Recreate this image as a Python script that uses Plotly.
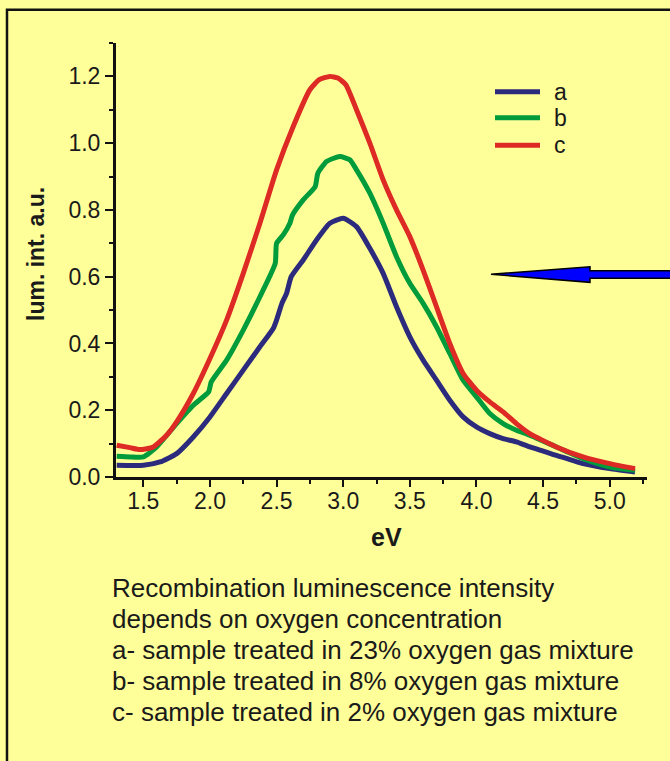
import plotly.graph_objects as go

# ---------------- data ----------------
series_names = ["a", "b", "c"]
series_colors = ["#2B2A7C", "#009B3A", "#DD2A25"]

x_a = [1.30, 1.5, 1.625, 1.75, 1.875, 2.0, 2.125, 2.25, 2.375, 2.475, 2.5, 2.54, 2.575, 2.61,
       2.7, 2.8, 2.9, 3.0, 3.1, 3.2, 3.3, 3.4, 3.5, 3.6, 3.7, 3.8, 3.9, 4.0, 4.1, 4.2, 4.3,
       4.4, 4.6, 4.8, 5.0, 5.19]
y_a = [0.035, 0.035, 0.045, 0.07, 0.12, 0.18, 0.25, 0.32, 0.39, 0.445, 0.47, 0.52, 0.55, 0.60,
       0.65, 0.71, 0.76, 0.775, 0.75, 0.685, 0.61, 0.51, 0.42, 0.35, 0.29, 0.23, 0.18, 0.15,
       0.13, 0.115, 0.105, 0.09, 0.065, 0.04, 0.025, 0.015]

x_b = [1.30, 1.40, 1.5, 1.6, 1.75, 1.875, 1.99, 2.01, 2.125, 2.25, 2.375, 2.49, 2.50, 2.55,
       2.60, 2.62, 2.70, 2.79, 2.81, 2.875, 2.975, 3.05, 3.1, 3.2, 3.3, 3.4, 3.5, 3.6, 3.7,
       3.8, 3.9, 4.0, 4.1, 4.2, 4.3, 4.4, 4.6, 4.8, 5.0, 5.19]
y_b = [0.062, 0.06, 0.06, 0.09, 0.16, 0.215, 0.255, 0.285, 0.35, 0.44, 0.54, 0.64, 0.70, 0.725,
       0.76, 0.785, 0.83, 0.87, 0.91, 0.945, 0.96, 0.95, 0.92, 0.85, 0.76, 0.66, 0.58, 0.52,
       0.45, 0.37, 0.29, 0.24, 0.19, 0.16, 0.14, 0.125, 0.09, 0.055, 0.03, 0.02]

x_c = [1.30, 1.40, 1.475, 1.575, 1.675, 1.75, 1.875, 2.0, 2.125, 2.25, 2.375, 2.5, 2.625, 2.75,
       2.82, 2.9, 2.96, 3.02, 3.1, 3.2, 3.3, 3.4, 3.5, 3.6, 3.7, 3.8, 3.9, 4.0, 4.1, 4.2, 4.3,
       4.4, 4.6, 4.8, 5.0, 5.19]
y_c = [0.095, 0.088, 0.082, 0.09, 0.125, 0.165, 0.25, 0.355, 0.47, 0.61, 0.76, 0.92, 1.05, 1.16,
       1.19, 1.20, 1.195, 1.175, 1.10, 1.0, 0.89, 0.80, 0.72, 0.62, 0.51, 0.40, 0.31, 0.26,
       0.225, 0.195, 0.16, 0.13, 0.09, 0.06, 0.04, 0.025]

x_ticks = [1.5, 2.0, 2.5, 3.0, 3.5, 4.0, 4.5, 5.0]
x_tick_labels = ["1.5", "2.0", "2.5", "3.0", "3.5", "4.0", "4.5", "5.0"]
y_ticks = [0.0, 0.2, 0.4, 0.6, 0.8, 1.0, 1.2]
y_tick_labels = ["0.0", "0.2", "0.4", "0.6", "0.8", "1.0", "1.2"]

x_title = "eV"
y_title = "lum. int. a.u."
caption_lines = [
    "Recombination luminescence intensity",
    "depends on oxygen concentration",
    "a- sample treated in 23% oxygen gas mixture",
    "b- sample treated in 8% oxygen gas mixture",
    "c- sample treated in 2% oxygen gas mixture",
]

# ---------------- layout geometry (pixels) ----------------
W, H = 670, 761
L, R, T, B = 116, 647, 43.3, 476.7
BG = "#FFFF99"
FONT = "Liberation Sans, Arial, sans-serif"
TXT = "#1a1a1a"


def px(xpix):
    return (xpix - L) / (R - L)


def py(ypix):
    return (B - ypix) / (B - T)


fig = go.Figure()
for xs, ys, name, col in zip([x_a, x_b, x_c], [y_a, y_b, y_c], series_names, series_colors):
    fig.add_trace(go.Scatter(x=xs, y=ys, mode="lines", name=name,
                             line=dict(color=col, width=5, shape="spline", smoothing=0.5),
                             showlegend=False, hoverinfo="skip"))

shapes = []
# outer frame (left & top visible, right/bottom beyond page)
shapes.append(dict(type="rect", xref="paper", yref="paper",
                   x0=px(7), x1=px(700), y0=py(790), y1=py(10),
                   line=dict(color="#111111", width=2.5), fillcolor="rgba(0,0,0,0)", layer="below"))

# legend lines
legend_y = [92, 118, 145.5]
annotations = []
for name, col, ly in zip(series_names, series_colors, legend_y):
    shapes.append(dict(type="line", xref="paper", yref="paper",
                       x0=px(495), x1=px(540), y0=py(ly), y1=py(ly),
                       line=dict(color=col, width=5)))
    annotations.append(dict(xref="paper", yref="paper", x=px(552), y=py(ly), text=name,
                            showarrow=False, xanchor="left", yanchor="middle",
                            font=dict(family=FONT, size=23, color=TXT)))

# blue arrow (polygon)
tip = (491, 274.3)
path_pts = [tip, (590, 266.7), (590, 270.7), (700, 270.7), (700, 278.3), (590, 278.3), (590, 282.3)]
path = "M " + " L ".join(f"{px(a):.5f},{py(b):.5f}" for a, b in path_pts) + " Z"
shapes.append(dict(type="path", xref="paper", yref="paper", path=path,
                   fillcolor="#0000FF", line=dict(color="#000000", width=1.5)))

# axis titles
annotations.append(dict(xref="paper", yref="paper", x=px(386), y=py(537), text="<b>" + x_title + "</b>",
                        showarrow=False, xanchor="center", yanchor="middle",
                        font=dict(family=FONT, size=25, color=TXT)))
annotations.append(dict(xref="paper", yref="paper", x=px(36), y=py(254), text="<b>" + y_title + "</b>",
                        showarrow=False, xanchor="center", yanchor="middle", textangle=-90,
                        font=dict(family=FONT, size=23, color=TXT)))

# caption
for i, line in enumerate(caption_lines):
    annotations.append(dict(xref="paper", yref="paper", x=px(111), y=py(587 + 31 * i), text=line,
                            showarrow=False, xanchor="left", yanchor="middle",
                            height=29, valign="middle", borderpad=0,
                            font=dict(family=FONT, size=26, color=TXT)))

fig.update_layout(
    width=W, height=H,
    margin=dict(l=L, r=W - R, t=T, b=H - B, pad=0),
    paper_bgcolor=BG, plot_bgcolor=BG,
    shapes=shapes, annotations=annotations,
    showlegend=False,
    font=dict(family=FONT, size=23, color=TXT),
)
fig.update_xaxes(range=[1.295, 5.28], showgrid=False, zeroline=False,
                 showline=True, linecolor="#111111", linewidth=3,
                 tickmode="array", tickvals=x_ticks, ticktext=x_tick_labels,
                 ticks="outside", ticklen=7, tickwidth=2, tickcolor="#111111",
                 ticklabelstandoff=-6,
                 tickfont=dict(family=FONT, size=23, color=TXT),
                 minor=dict(dtick=0.25, tick0=1.25, ticks="outside", ticklen=4, tickwidth=2,
                            tickcolor="#111111", showgrid=False))
fig.update_yaxes(range=[0, 1.3], showgrid=False, zeroline=False,
                 showline=True, linecolor="#111111", linewidth=3,
                 tickmode="array", tickvals=y_ticks, ticktext=y_tick_labels,
                 ticks="outside", ticklen=8, tickwidth=2, tickcolor="#111111",
                 tickfont=dict(family=FONT, size=23, color=TXT),
                 minor=dict(dtick=0.1, tick0=0, ticks="outside", ticklen=4, tickwidth=2,
                            tickcolor="#111111", showgrid=False))

fig.write_html("out.html", config={"displayModeBar": False},
               post_script="document.body.style.margin='0';document.body.style.padding='0';"
                           "document.body.style.background='" + BG + "';")
